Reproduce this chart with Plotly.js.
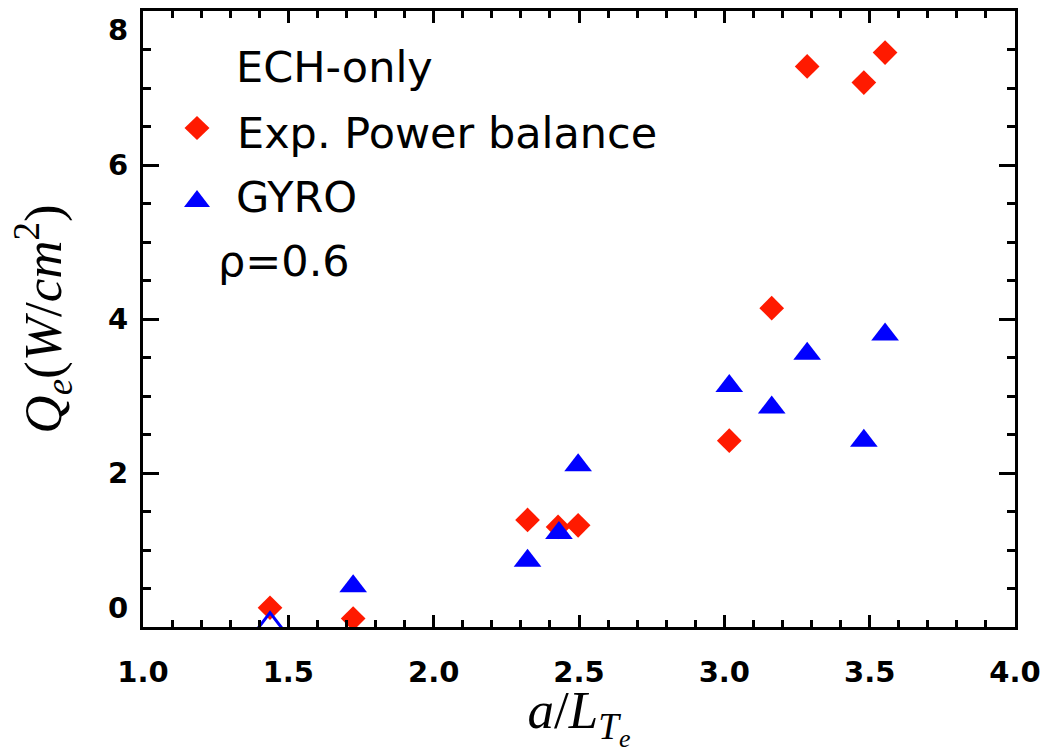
<!DOCTYPE html>
<html>
<head>
<meta charset="utf-8">
<script src="https://cdn.plot.ly/plotly-3.0.1.min.js"></script>
<style>
  html, body { margin: 0; padding: 0; background: #ffffff; }
  #chart { width: 1042px; height: 753px; }
</style>
</head>
<body>
<div id="chart"></div>
<script>
// Normalised electron temperature gradient a/L_Te
const gradExp  = [1.437, 1.723, 2.323, 2.428, 2.497, 3.017, 3.163, 3.285, 3.480, 3.553];
// Electron heat flux from experimental power balance (W/cm^2)
const fluxExp  = [0.25, 0.11, 1.39, 1.30, 1.32, 2.42, 4.14, 7.28, 7.07, 7.46];

const gradGyro = [1.437, 1.723, 2.323, 2.431, 2.497, 3.017, 3.163, 3.285, 3.480, 3.553];
// Electron heat flux predicted by GYRO (W/cm^2)
const fluxGyro = [0.03, 0.53, 0.86, 1.22, 2.10, 3.13, 2.85, 3.55, 2.42, 3.80];

const xTickVals = [1.0, 1.5, 2.0, 2.5, 3.0, 3.5, 4.0];
const yTickVals = [0, 2, 4, 6, 8];
// end labels are nudged inward so they stay inside the frame
const yTickText = ["0<br> ", "2", "4", "6", "<br>8"];

const legendLines = ["ECH-only", "Exp. Power balance", "GYRO", "ρ=0.6"];

const RED = "#ff1a00";
const BLUE = "#0000ff";

// plot-area geometry in pixels, used to place the text block in paper units
const W = 1042, H = 753;
const M = { l: 143, r: 27, t: 11, b: 126 };
const pw = W - M.l - M.r, ph = H - M.t - M.b;
const px = v => (v - M.l) / pw;
const py = v => (H - M.b - v) / ph;

// first GYRO point sits on the axis and is drawn hollow
const gyroSymbols = fluxGyro.map((v, i) => i === 0 ? "triangle-up-open" : "triangle-up");
const gyroLineW = fluxGyro.map((v, i) => i === 0 ? 3 : 0);

const traces = [
  {
    type: "scatter", mode: "markers", name: "Exp. Power balance",
    x: gradExp, y: fluxExp,
    marker: { symbol: "diamond", size: 19, color: RED, line: { width: 0 } }
  },
  {
    type: "scatter", mode: "markers", name: "GYRO",
    x: gradGyro, y: fluxGyro,
    marker: { symbol: gyroSymbols, size: 24, color: BLUE, line: { width: gyroLineW, color: BLUE } }
  }
];

const tickFont = { family: "DejaVu Sans", size: 29, color: "#000", weight: "bold" };
const textFont = { family: "DejaVu Sans", size: 43, color: "#000" };
const mathFont = { family: "Liberation Serif", size: 53, color: "#000" };

const axisCommon = {
  showline: true, linecolor: "#000", linewidth: 3, mirror: "ticks",
  ticks: "inside", tickcolor: "#000", tickwidth: 3,
  showgrid: false, zeroline: false, tickfont: tickFont,
  ticklabeloverflow: "allow", fixedrange: true
};

const rows = [
  { text: legendLines[0], x: 234, y: 66.5 },
  { text: legendLines[1], x: 235, y: 133 },
  { text: legendLines[2], x: 234, y: 197 },
  { text: legendLines[3], x: 216, y: 261 }
];

const annotations = rows.map(r => ({
  xref: "paper", yref: "paper", x: px(r.x), y: py(r.y),
  xanchor: "left", yanchor: "middle", showarrow: false,
  text: r.text, font: textFont
}));

// legend glyphs beside the series names
const shapes = [
  {
    type: "path", xref: "paper", yref: "paper",
    xsizemode: "pixel", ysizemode: "pixel",
    xanchor: px(197), yanchor: py(128),
    path: "M-12.5,0 L0,12 L12.5,0 L0,-12 Z",
    fillcolor: RED, line: { width: 0 }
  },
  {
    type: "path", xref: "paper", yref: "paper",
    xsizemode: "pixel", ysizemode: "pixel",
    xanchor: px(197), yanchor: py(198),
    path: "M-13,-9 L13,-9 L0,8 Z",
    fillcolor: BLUE, line: { width: 0 }
  }
];

const layout = {
  width: W, height: H,
  margin: M,
  paper_bgcolor: "#fff", plot_bgcolor: "#fff",
  showlegend: false,
  xaxis: Object.assign({}, axisCommon, {
    range: [1, 4], tickvals: xTickVals, tickformat: ".1f",
    ticklen: 12, ticklabelstandoff: 17,
    minor: { dtick: 0.1, ticks: "inside", ticklen: 7, tickwidth: 3, tickcolor: "#000", showgrid: false },
    title: { text: "<i>a</i>/<i>L</i><sub><i>T</i><sub><i>e</i></sub></sub>", font: mathFont, standoff: 43 }
  }),
  yaxis: Object.assign({}, axisCommon, {
    range: [0, 8], tickvals: yTickVals, ticktext: yTickText,
    ticklen: 16, ticklabelstandoff: 6,
    minor: { dtick: 0.5, ticks: "inside", ticklen: 8, tickwidth: 3, tickcolor: "#000", showgrid: false },
    title: { text: "<i>Q</i><sub><i>e</i></sub>(<i>W</i>/<i>cm</i><sup>2</sup>)", font: mathFont, standoff: 30 }
  }),
  annotations: annotations,
  shapes: shapes
};

Plotly.newPlot("chart", traces, layout, { displayModeBar: false, staticPlot: true });
</script>
</body>
</html>
